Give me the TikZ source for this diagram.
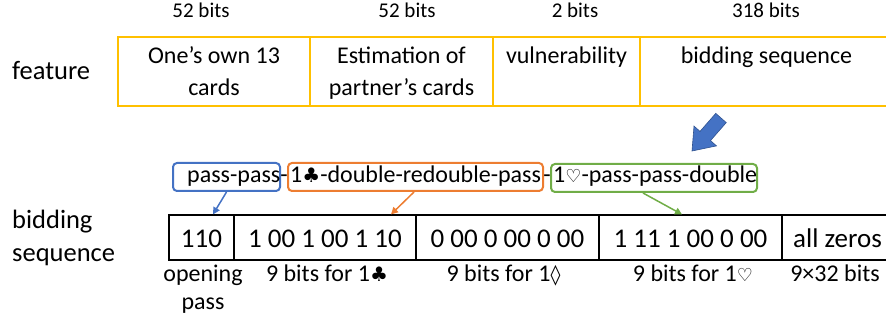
\documentclass[tikz,border=0pt]{standalone}
\usepackage{fontspec}
\setmainfont{Carlito}
\newfontfamily\symfont{DejaVu Sans}
\usetikzlibrary{arrows.meta}
\definecolor{fyellow}{HTML}{FFC000}
\definecolor{oblue}{HTML}{4472C4}
\definecolor{oorange}{HTML}{ED7D31}
\definecolor{ogreen}{HTML}{70AD47}
\definecolor{darkblue}{HTML}{2F528F}
\newcommand{\fsz}[1]{\fontsize{#1}{#1}\selectfont}
\newcommand{\club}{{\symfont\fontsize{20}{20}\selectfont ♣}}
\newcommand{\heart}{{\symfont\fontsize{18}{18}\selectfont ♡}}
\newcommand{\lozen}{{\symfont\fontsize{20}{20}\selectfont ◊}}
\begin{document}
\begin{tikzpicture}[x=1pt,y=-1pt,
  txt/.style={inner sep=0pt, anchor=base},
  ltxt/.style={inner sep=0pt, anchor=base west, font=\fsz{26.5}},
  toplbl/.style={txt, font=\fsz{21}},
  ftxt/.style={txt, font=\fsz{24}},
  fcell/.style={draw=fyellow, line width=2pt, minimum height=69pt, inner sep=0pt},
  tcell/.style={draw=black, line width=1.2pt, minimum height=45pt, inner sep=0pt,
    font=\fsz{27}, text height=21pt, text depth=0pt},
  rbox/.style={line width=2pt, rounded corners=4pt, minimum height=28pt, inner sep=0pt},
  conn/.style={line width=1.5pt, -{Triangle[length=7pt,width=7pt]}},
  btxt/.style={txt, font=\fsz{24}}]
\useasboundingbox (0,0) rectangle (886,320);
\clip (0,0) rectangle (886,320);

% ---------- feature row ----------
\node[ltxt] (feat) at (12,80) {feature};
\node[fcell, minimum width=192pt] (f1) at (214,71.5) {};
\node[fcell, minimum width=183pt] (f2) at (401.5,71.5) {};
\node[fcell, minimum width=147pt] (f3) at (566.5,71.5) {};
\node[fcell, minimum width=253pt] (f4) at (766.5,71.5) {};

\node[toplbl] (b1) at (201,18) {52 bits};
\node[toplbl] (b2) at (407,18) {52 bits};
\node[toplbl] (b3) at (575,18) {2 bits};
\node[toplbl] (b4) at (766,18) {318 bits};

\node[ftxt] (f1a) at (214,64) {One’s own 13};
\node[ftxt] (f1b) at (214,96) {cards};
\node[ftxt] (f2a) at (401.5,64) {Estimation of};
\node[ftxt] (f2b) at (401.5,96) {partner’s cards};
\node[ftxt] (f3a) at (566.5,64) {vulnerability};
\node[ftxt] (f4a) at (766.5,64) {bidding sequence};

% ---------- block arrow ----------
\filldraw[fill=oblue, draw=darkblue, line width=0.6pt, line join=miter]
  (715.75,113.4) -- (726.25,122.6) -- (710.5,140.6) -- (716.5,145.9)
  -- (692,151) -- (694,126.1) -- (700,131.4) -- cycle;

% ---------- bidding string ----------
\node[rbox, draw=oblue, minimum width=107pt] (bbox) at (226.5,177) {};
\node[rbox, draw=oorange, minimum width=255pt] (obox) at (415.5,177) {};
\node[rbox, draw=ogreen, minimum width=206pt] (gbox) at (654,178) {};

\node[ftxt, anchor=base west] (s1) at (187,183) {pass-pass};
\node[ftxt] (h1) at (284,183) {-};
\node[ftxt, anchor=base west] (s2) at (290,183) {1\club-double-redouble-pass};
\node[ftxt] (h2) at (547,183) {-};
\node[ftxt, anchor=base west] (s3) at (553,183) {1\heart-pass-pass-double};

% ---------- bidding sequence table ----------
\node[ltxt] (bid1) at (12,229) {bidding};
\node[ltxt] (bid2) at (12,262) {sequence};

\node[tcell, minimum width=65pt] (c1) at (201.5,237.5) {110};
\node[tcell, minimum width=182pt] (c2) at (325,237.5) {1 00 1 00 1 10};
\node[tcell, minimum width=183pt] (c3) at (507.5,237.5) {0 00 0 00 0 00};
\node[tcell, minimum width=183pt] (c4) at (690.5,237.5) {1 11 1 00 0 00};
\node[tcell, minimum width=111pt] (c5) at (837.5,237.5) {all zeros};

\node[btxt] (l1a) at (203,282) {opening};
\node[btxt] (l1b) at (203,309) {pass};
\node[btxt] (l2) at (327,282) {9 bits for 1\club};
\node[btxt] (l3) at (503.5,282) {9 bits for 1\lozen};
\node[btxt] (l4) at (693,282) {9 bits for 1\heart};
\node[btxt] (l5) at (835,282) {9×32 bits};

% ---------- connectors ----------
\draw[conn, draw=oblue] (bbox.south) -- ([xshift=11.5pt]c1.north);
\draw[conn, draw=oorange] ([xshift=-1.5pt]obox.south) -- ([xshift=66pt]c2.north);
\draw[conn, draw=ogreen] ([xshift=-11pt]gbox.south) -- ([xshift=-8.5pt]c4.north);
\end{tikzpicture}
\end{document}
